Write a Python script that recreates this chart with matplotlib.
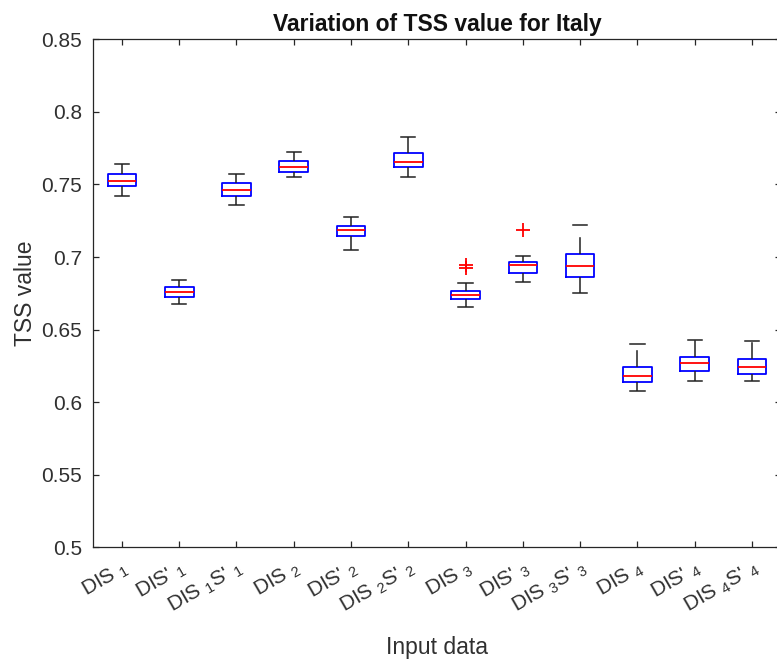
import matplotlib
matplotlib.use('Agg')
import matplotlib.pyplot as plt

plt.rcParams['font.family'] = ['Liberation Sans', 'DejaVu Sans']
plt.rcParams['mathtext.fontset'] = 'custom'
plt.rcParams['mathtext.rm'] = 'Liberation Sans'
plt.rcParams['mathtext.it'] = 'Liberation Sans'

# box statistics
labels = [r"DIS $_1$", r"DIS' $_1$", r"DIS $_1$S' $_1$",
          r"DIS $_2$", r"DIS' $_2$", r"DIS $_2$S' $_2$",
          r"DIS $_3$", r"DIS' $_3$", r"DIS $_3$S' $_3$",
          r"DIS $_4$", r"DIS' $_4$", r"DIS $_4$S' $_4$"]
whis_lo = [0.7418, 0.6674, 0.7356, 0.7551, 0.7048, 0.7551,
           0.6656, 0.6826, 0.6750, 0.6077, 0.6146, 0.6146]
q1 = [0.7487, 0.6722, 0.7420, 0.7584, 0.7143, 0.7623,
      0.6709, 0.6893, 0.6860, 0.6139, 0.6217, 0.6197]
med = [0.7522, 0.6762, 0.7462, 0.7623, 0.7186, 0.7657,
       0.6741, 0.6945, 0.6938, 0.6183, 0.6270, 0.6240]
q3 = [0.7575, 0.6793, 0.7508, 0.7660, 0.7214, 0.7720,
      0.6769, 0.6968, 0.7019, 0.6242, 0.6309, 0.6295]
whis_hi = [0.7639, 0.6840, 0.7570, 0.7724, 0.7276, 0.7830,
           0.6819, 0.7010, 0.7224, 0.6399, 0.6428, 0.6424]
outliers = [[], [], [], [], [], [],
            [0.6945, 0.6927], [0.7189], [], [], [], []]

ytick_vals = [0.5, 0.55, 0.6, 0.65, 0.7, 0.75, 0.8, 0.85]
ytick_labels = ['0.5', '0.55', '0.6', '0.65', '0.7', '0.75', '0.8', '0.85']

stats = []
for i in range(len(labels)):
    stats.append(dict(whislo=whis_lo[i], q1=q1[i], med=med[i], q3=q3[i],
                      whishi=whis_hi[i], fliers=outliers[i]))

fig = plt.figure(figsize=(7.77, 6.61), dpi=100)
ax = fig.add_axes([93.3/777, 113.7/661, 687.3/777, 508/661])

pos = list(range(1, len(labels)+1))
ax.bxp(stats, positions=pos, widths=0.5, capwidths=0.25, showfliers=True,
       boxprops=dict(color='#0000ff', linewidth=1.3),
       medianprops=dict(color='#ff0000', linewidth=1.3),
       whiskerprops=dict(color='#222222', linewidth=1.1, linestyle=(0, (11, 9))),
       capprops=dict(color='#222222', linewidth=1.1),
       flierprops=dict(marker='+', markeredgecolor='#ff0000', markersize=10,
                       markeredgewidth=1.3, linestyle='none'))

ax.set_xlim(0.5, 12.5)
ax.set_ylim(0.5, 0.85)
ax.set_yticks(ytick_vals)
ax.set_yticklabels(ytick_labels)
ax.set_xticks(pos)
ax.set_xticklabels(labels, rotation=30, ha='right', rotation_mode='anchor')

txt = '#303030'
ax.tick_params(direction='in', top=True, right=True, length=4, width=0.9,
               colors='#262626', labelcolor=txt, labelsize=15)
ax.tick_params(axis='y', pad=8)
ax.tick_params(axis='x', pad=7)
for s in ax.spines.values():
    s.set_color('#262626')
    s.set_linewidth(0.9)

ax.set_title('Variation of TSS value for Italy', fontsize=16.5, fontweight='bold',
             color='#111111', pad=6)
ax.set_ylabel('TSS value', fontsize=16.5, color=txt, labelpad=3)
ax.set_xlabel('Input data', fontsize=16.5, color=txt, labelpad=14)

fig.savefig('out.png', dpi=100)
